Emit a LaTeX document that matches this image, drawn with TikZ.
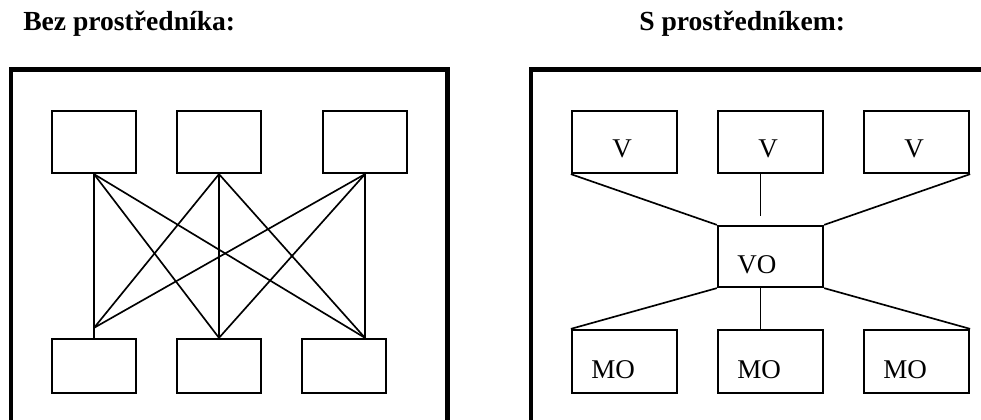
\documentclass[tikz,border=0pt]{standalone}
\usepackage{fontspec}
\setmainfont{Liberation Serif}
\usetikzlibrary{calc}
\begin{document}
\begin{tikzpicture}[x=0.75pt,y=-0.75pt,
  bx/.style 2 args={draw, line width=1.7pt, inner sep=0pt, minimum width=#1*0.75pt, minimum height=#2*0.75pt},
  frame/.style={draw, line width=3.3pt, line join=miter},
  conn/.style={draw, line width=1.25pt},
  ttl/.style={anchor=base west, inner sep=0pt, font=\fontsize{20.7}{24}\selectfont\bfseries},
  lbl/.style={anchor=base west, inner sep=0pt, font=\fontsize{20.3}{24}\selectfont}]
\useasboundingbox (0,0) rectangle (981,420);
\begin{scope}
\clip (0,0) rectangle (981,420);
\draw[frame] (11,440) -- (11,69.5) -- (447.5,69.5) -- (447.5,440);
\draw[frame] (531,440) -- (531,69.5) -- (1000,69.5);
\end{scope}
% titles
\node[ttl] (t1) at (23,30.5) {Bez prostředníka:};
\node[ttl] (t2) at (639,30.5) {S prostředníkem:};
% left panel
\node[bx={84}{62}] (T1) at (94,142) {};
\node[bx={84}{62}] (T2) at (219,142) {};
\node[bx={84}{62}] (T3) at (365,142) {};
\node[bx={84}{54}] (B1) at (94,366) {};
\node[bx={84}{54}] (B2) at (219,366) {};
\node[bx={84}{54}] (B3) at (344,366) {};
\coordinate (p1) at ($(B1.north)+(0,-10)$);
\coordinate (q3) at (T3.south |- B3.north);
\draw[conn] (T1.south) -- (B1.north);
\draw[conn] (T1.south) -- (B2.north);
\draw[conn] (T1.south) -- (q3);
\draw[conn] (T2.south) -- (p1);
\draw[conn, line width=1.8pt] (T2.south) -- (B2.north);
\draw[conn] (T2.south) -- (q3);
\draw[conn] (T3.south) -- (p1);
\draw[conn] (T3.south) -- (B2.north);
\draw[conn] (T3.south) -- (q3);
% right panel
\node[bx={105}{62}] (V1) at (624.5,142) {};
\node[bx={105}{62}] (V2) at (770.5,142) {};
\node[bx={105}{62}] (V3) at (916.5,142) {};
\node[bx={105}{61}] (VO) at (770.5,256.5) {};
\node[bx={105}{63}] (M1) at (624.5,361.5) {};
\node[bx={105}{63}] (M2) at (770.5,361.5) {};
\node[bx={105}{63}] (M3) at (916.5,361.5) {};
\coordinate (v2a) at ($(V2.south)+(-10,0)$);
\coordinate (v2b) at ($(V2.south)+(-10,42)$);
\coordinate (voa) at ($(VO.south)+(-10,0)$);
\coordinate (m2a) at ($(M2.north)+(-10,0)$);
\draw[conn] (V1.south west) -- (VO.north west);
\draw[conn] (v2a) -- (v2b);
\draw[conn] (V3.south east) -- (VO.north east);
\draw[conn] (VO.south west) -- (M1.north west);
\draw[conn] (voa) -- (m2a);
\draw[conn] (VO.south east) -- (M3.north east);
% labels
\node[lbl] (l1) at (612,157.5) {V};
\node[lbl] (l2) at (758,157.5) {V};
\node[lbl] (l3) at (904,157.5) {V};
\node[lbl] (l4) at (737,273) {VO};
\node[lbl] (l5) at (591,378) {MO};
\node[lbl] (l6) at (737,378) {MO};
\node[lbl] (l7) at (883,378) {MO};
\end{tikzpicture}
\end{document}
